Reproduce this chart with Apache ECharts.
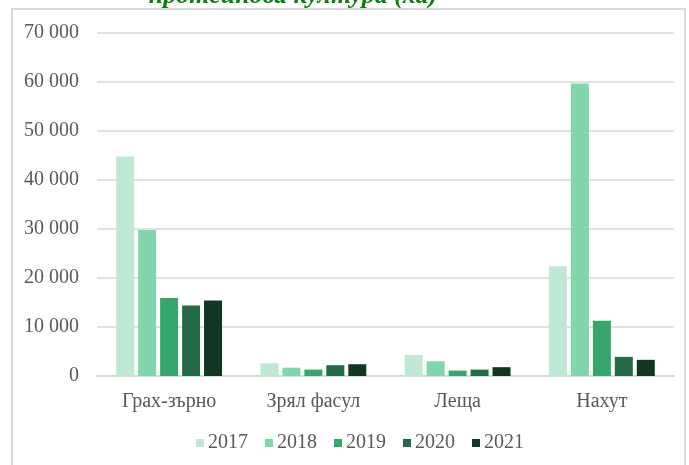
<!DOCTYPE html>
<html>
<head>
<meta charset="utf-8">
<script src="https://cdn.jsdelivr.net/npm/echarts@6/dist/echarts.min.js"></script>
<style>
  html, body { margin: 0; padding: 0; background: #fff; }
  #chart { width: 689px; height: 465px; }
</style>
</head>
<body>
<div id="chart"></div>
<script>
// култури
const categories = ['Грах-зърно', 'Зрял фасул', 'Леща', 'Нахут'];
const years = ['2017', '2018', '2019', '2020', '2021'];

// площи по години (ха)
const y2017 = [44800, 2600, 4300, 22400];
const y2018 = [29800, 1700, 3000, 59700];
const y2019 = [15900, 1300, 1100, 11300];
const y2020 = [14400, 2200, 1300, 3900];
const y2021 = [15400, 2400, 1800, 3300];

const yearColors = ['#bfe9d5', '#82d6ac', '#36a66e', '#226b46', '#123624'];
const seriesData = [y2017, y2018, y2019, y2020, y2021];

const chart = echarts.init(document.getElementById('chart'));
const textColor = '#595959';
const fontFam = '"Liberation Serif", "Times New Roman", serif';

const option = {
  animation: false,
  textStyle: { fontFamily: fontFam },
  graphic: [
    {
      type: 'rect',
      shape: { x: 12, y: 9, width: 673, height: 480 },
      style: { fill: 'none', stroke: '#d9d9d9', lineWidth: 2 },
      silent: true
    },
    {
      type: 'text',
      x: 293,
      y: 9,
      style: {
        text: 'протеинова култура (ха)',
        fill: '#0b7d0b',
        font: 'italic bold 26px "Liberation Serif", serif',
        textAlign: 'center',
        textVerticalAlign: 'bottom'
      },
      silent: true
    }
  ],
  legend: {
    data: years,
    bottom: 12,
    left: 196,
    padding: 0,
    itemWidth: 8,
    itemHeight: 8,
    itemGap: 17,
    icon: 'rect',
    textStyle: { color: textColor, fontSize: 20, fontFamily: fontFam, padding: [0, 0, 0, -1] }
  },
  grid: { left: 97, right: 15, top: 33, bottom: 89 },
  xAxis: {
    type: 'category',
    data: categories,
    axisLine: { lineStyle: { color: '#d9d9d9', width: 2 } },
    axisTick: { show: false },
    axisLabel: { color: textColor, fontSize: 20, margin: 16, fontFamily: fontFam }
  },
  yAxis: {
    type: 'value',
    min: 0,
    max: 70000,
    interval: 10000,
    axisLine: { show: false },
    axisTick: { show: false },
    splitLine: { lineStyle: { color: '#d9d9d9', width: 1.5 } },
    axisLabel: {
      color: textColor,
      fontSize: 20,
      margin: 18,
      fontFamily: fontFam,
      formatter: v => v === 0 ? '0' : String(v).replace(/(\d)(?=(\d{3})+$)/g, '$1 ')
    }
  },
  series: years.map((y, i) => ({
    name: y,
    type: 'bar',
    data: seriesData[i],
    barWidth: 18,
    barGap: '22%',
    itemStyle: { color: yearColors[i] }
  }))
};

chart.setOption(option);
</script>
</body>
</html>
